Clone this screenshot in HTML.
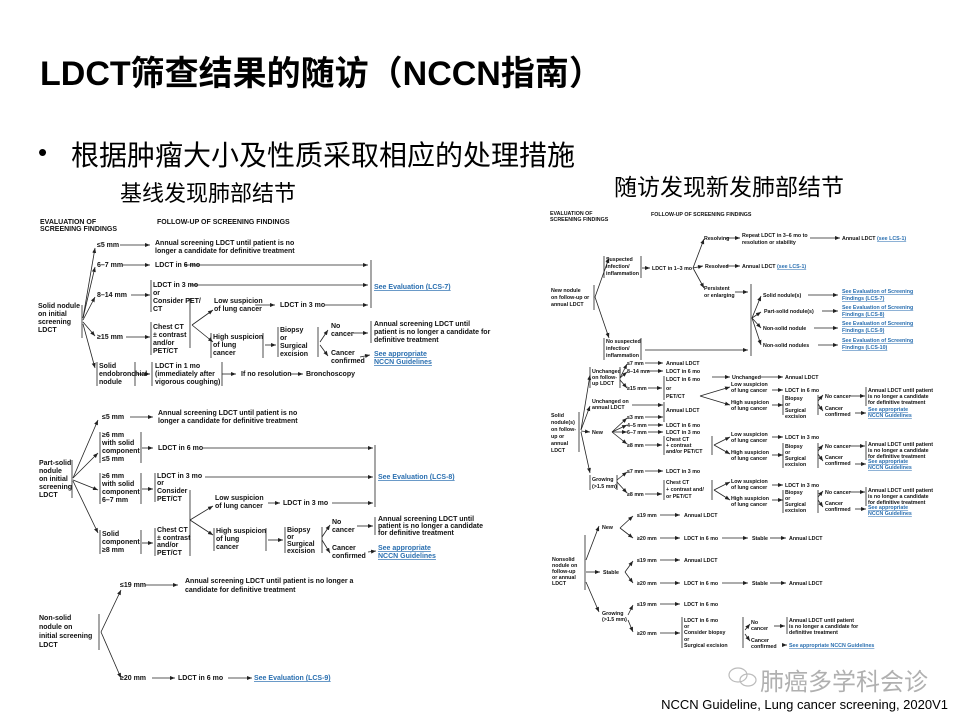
<!DOCTYPE html>
<html><head><meta charset="utf-8">
<style>
html,body{margin:0;padding:0;background:#fff;}
body{width:960px;height:720px;position:relative;overflow:hidden;font-family:"Liberation Sans","Noto Sans CJK SC",sans-serif;}
.h{position:absolute;white-space:nowrap;color:#000;}
svg{position:absolute;left:0;top:0;}
svg text{font-family:"Liberation Sans",sans-serif;fill:#111;}
.L text{font-size:7px;font-weight:bold;}
.R text{font-size:5.3px;font-weight:bold;}
text.b{fill:#2a6fb0;text-decoration:underline;}
path,line{stroke:#222;stroke-width:0.8;fill:none;}
</style></head><body>
<div class="h" style="left:40px;top:46px;font-size:34px;font-weight:bold;font-family:'Liberation Sans','Noto Sans CJK SC',sans-serif;">LDCT筛查结果的随访（NCCN指南）</div>
<div class="h" style="left:38px;top:137px;font-size:26px;font-family:'Liberation Sans','Noto Sans CJK SC',sans-serif;">•</div>
<div class="h" style="left:71px;top:134px;font-size:28px;font-family:'Noto Sans CJK SC',sans-serif;">根据肿瘤大小及性质采取相应的处理措施</div>
<div class="h" style="left:120px;top:176px;font-size:22px;font-family:'Noto Sans CJK SC',sans-serif;">基线发现肺部结节</div>
<div class="h" style="left:614px;top:168px;font-size:23px;font-family:'Noto Sans CJK SC',sans-serif;">随访发现新发肺部结节</div>
<div class="h" style="left:760px;top:662px;font-size:24px;color:#b0b0b0;font-family:'Noto Sans CJK SC',sans-serif;">肺癌多学科会诊</div>
<svg width="960" height="720" viewBox="0 0 960 720" style="pointer-events:none">
<g style="stroke:#bbb;stroke-width:1.2;fill:none">
<ellipse cx="738" cy="675" rx="9" ry="7"/><ellipse cx="748" cy="680" rx="8" ry="6"/>
</g></svg>
<div class="h" style="right:12px;top:697px;font-size:13px;">NCCN Guideline, Lung cancer screening, 2020V1</div>

<svg width="960" height="720" viewBox="0 0 960 720">
<defs><marker id="a" markerWidth="6" markerHeight="6" refX="5" refY="3" orient="auto" markerUnits="userSpaceOnUse"><path d="M0,1 L5,3 L0,5 z" style="fill:#222;stroke:none"/></marker></defs>

<g class="L">
<text x="40" y="224" font-size="6">EVALUATION OF</text><text x="40" y="231" font-size="6">SCREENING FINDINGS</text>
<text x="157" y="224" font-size="6">FOLLOW-UP OF SCREENING FINDINGS</text>
<text x="38" y="308">Solid nodule</text><text x="38" y="316">on initial</text><text x="38" y="324">screening</text><text x="38" y="332">LDCT</text>
<line x1="82" y1="305" x2="82" y2="338"/>
<g marker-end="url(#a)">
<line x1="83" y1="318" x2="95" y2="248"/><line x1="83" y1="318" x2="95" y2="267"/><line x1="83" y1="320" x2="95" y2="297"/><line x1="83" y1="322" x2="95" y2="336"/><line x1="83" y1="324" x2="95" y2="368"/>
<line x1="120" y1="245" x2="150" y2="245"/><line x1="122" y1="265" x2="150" y2="265"/><line x1="185" y1="265" x2="368" y2="265"/>
<line x1="131" y1="295" x2="150" y2="295"/><line x1="190" y1="285" x2="368" y2="285"/>
<line x1="126" y1="337" x2="150" y2="337"/>
<line x1="192" y1="325" x2="213" y2="310"/><line x1="192" y1="325" x2="213" y2="342"/>
<line x1="255" y1="305" x2="275" y2="305"/><line x1="325" y1="305" x2="368" y2="305"/>
<line x1="265" y1="345" x2="276" y2="345"/>
<line x1="320" y1="342" x2="328" y2="330"/><line x1="320" y1="345" x2="328" y2="356"/>
<line x1="353" y1="333" x2="368" y2="333"/><line x1="360" y1="357" x2="370" y2="355"/>
<line x1="137" y1="374" x2="150" y2="374"/><line x1="222" y1="374" x2="236" y2="374"/><line x1="290" y1="374" x2="303" y2="374"/>
</g>
<text x="97" y="247">≤5 mm</text>
<text x="155" y="245">Annual screening LDCT until patient is no</text><text x="155" y="253">longer a candidate for definitive treatment</text>
<text x="97" y="267">6–7 mm</text><text x="155" y="267">LDCT in 6 mo</text>
<text x="97" y="297">8–14 mm</text>
<line x1="151" y1="280" x2="151" y2="312"/>
<text x="153" y="287">LDCT in 3 mo</text><text x="153" y="295">or</text><text x="153" y="303">Consider PET/</text><text x="153" y="311">CT</text>
<text x="97" y="339">≥15 mm</text>
<line x1="151" y1="322" x2="151" y2="355"/><line x1="190" y1="298" x2="190" y2="348"/>
<text x="153" y="329">Chest CT</text><text x="153" y="337">± contrast</text><text x="153" y="345">and/or</text><text x="153" y="353">PET/CT</text>
<text x="214" y="303">Low suspicion</text><text x="214" y="311">of lung cancer</text>
<text x="280" y="307">LDCT in 3 mo</text>
<line x1="211" y1="333" x2="211" y2="358"/><line x1="263" y1="333" x2="263" y2="358"/>
<text x="213" y="339">High suspicion</text><text x="213" y="347">of lung</text><text x="213" y="355">cancer</text>
<line x1="278" y1="327" x2="278" y2="357"/><line x1="318" y1="327" x2="318" y2="357"/>
<text x="280" y="332">Biopsy</text><text x="280" y="340">or</text><text x="280" y="348">Surgical</text><text x="280" y="356">excision</text>
<text x="331" y="328">No</text><text x="331" y="336">cancer</text><text x="331" y="355">Cancer</text><text x="331" y="363">confirmed</text>
<line x1="371" y1="260" x2="371" y2="308"/><text x="374" y="289" class="b">See Evaluation (LCS-7)</text>
<line x1="371" y1="321" x2="371" y2="343"/>
<text x="374" y="326">Annual screening LDCT until</text><text x="374" y="334">patient is no longer a candidate for</text><text x="374" y="342">definitive treatment</text>
<text x="374" y="356" class="b">See appropriate</text><text x="374" y="364" class="b">NCCN Guidelines</text>
<line x1="97" y1="362" x2="97" y2="386"/><line x1="135" y1="362" x2="135" y2="386"/>
<text x="99" y="368">Solid</text><text x="99" y="376">endobronchial</text><text x="99" y="384">nodule</text>
<line x1="152" y1="362" x2="152" y2="386"/><line x1="222" y1="362" x2="222" y2="386"/>
<text x="155" y="368">LDCT in 1 mo</text><text x="155" y="376">(immediately after</text><text x="155" y="384">vigorous coughing)</text>
<text x="241" y="376">If no resolution</text><text x="306" y="376">Bronchoscopy</text>

<text x="39" y="465">Part-solid</text><text x="39" y="473">nodule</text><text x="39" y="481">on initial</text><text x="39" y="489">screening</text><text x="39" y="497">LDCT</text>
<line x1="72" y1="460" x2="72" y2="498"/>
<g marker-end="url(#a)">
<line x1="73" y1="478" x2="98" y2="420"/><line x1="73" y1="478" x2="98" y2="453"/><line x1="73" y1="480" x2="98" y2="490"/><line x1="73" y1="481" x2="98" y2="533"/>
<line x1="130" y1="417" x2="153" y2="417"/>
<line x1="142" y1="448" x2="153" y2="448"/><line x1="203" y1="448" x2="373" y2="448"/>
<line x1="142" y1="489" x2="153" y2="489"/><line x1="205" y1="477" x2="373" y2="477"/>
<line x1="142" y1="543" x2="153" y2="543"/>
<line x1="190" y1="520" x2="213" y2="506"/><line x1="190" y1="520" x2="213" y2="535"/>
<line x1="268" y1="503" x2="280" y2="503"/><line x1="332" y1="503" x2="373" y2="503"/>
<line x1="268" y1="540" x2="283" y2="540"/>
<line x1="322" y1="537" x2="330" y2="525"/><line x1="322" y1="540" x2="330" y2="553"/>
<line x1="357" y1="526" x2="373" y2="526"/><line x1="368" y1="552" x2="376" y2="551"/>
</g>
<text x="102" y="419">≤5 mm</text>
<text x="158" y="415">Annual screening LDCT until patient is no</text><text x="158" y="423">longer a candidate for definitive treatment</text>
<line x1="100" y1="432" x2="100" y2="463"/><line x1="141" y1="432" x2="141" y2="463"/>
<text x="102" y="437">≥6 mm</text><text x="102" y="445">with solid</text><text x="102" y="453">component</text><text x="102" y="461">≤5 mm</text>
<text x="158" y="450">LDCT in 6 mo</text>
<line x1="100" y1="473" x2="100" y2="504"/><line x1="141" y1="473" x2="141" y2="504"/>
<text x="102" y="478">≥6 mm</text><text x="102" y="486">with solid</text><text x="102" y="494">component</text><text x="102" y="502">6–7 mm</text>
<line x1="155" y1="473" x2="155" y2="502"/>
<text x="157" y="478">LDCT in 3 mo</text><text x="157" y="485">or</text><text x="157" y="493">Consider</text><text x="157" y="501">PET/CT</text>
<line x1="190" y1="490" x2="190" y2="556"/>
<line x1="100" y1="530" x2="100" y2="554"/><line x1="141" y1="530" x2="141" y2="554"/>
<text x="102" y="536">Solid</text><text x="102" y="544">component</text><text x="102" y="552">≥8 mm</text>
<line x1="155" y1="528" x2="155" y2="556"/>
<text x="157" y="532">Chest CT</text><text x="157" y="540">± contrast</text><text x="157" y="547">and/or</text><text x="157" y="555">PET/CT</text>
<text x="215" y="500">Low suspicion</text><text x="215" y="508">of lung cancer</text>
<text x="283" y="505">LDCT in 3 mo</text>
<line x1="214" y1="528" x2="214" y2="551"/><line x1="266" y1="528" x2="266" y2="551"/>
<text x="216" y="533">High suspicion</text><text x="216" y="541">of lung</text><text x="216" y="549">cancer</text>
<line x1="285" y1="527" x2="285" y2="553"/><line x1="322" y1="527" x2="322" y2="553"/>
<text x="287" y="532">Biopsy</text><text x="287" y="539">or</text><text x="287" y="546">Surgical</text><text x="287" y="553">excision</text>
<text x="332" y="524">No</text><text x="332" y="532">cancer</text><text x="332" y="550">Cancer</text><text x="332" y="558">confirmed</text>
<line x1="375" y1="445" x2="375" y2="507"/><text x="378" y="479" class="b">See Evaluation (LCS-8)</text>
<line x1="375" y1="517" x2="375" y2="535"/>
<text x="378" y="521">Annual screening LDCT until</text><text x="378" y="528">patient is no longer a candidate</text><text x="378" y="535">for definitive treatment</text>
<text x="378" y="550" class="b">See appropriate</text><text x="378" y="558" class="b">NCCN Guidelines</text>

<text x="39" y="620">Non-solid</text><text x="39" y="629">nodule on</text><text x="39" y="638">initial screening</text><text x="39" y="647">LDCT</text>
<line x1="99" y1="614" x2="99" y2="650"/>
<g marker-end="url(#a)">
<line x1="101" y1="632" x2="121" y2="590"/><line x1="101" y1="632" x2="121" y2="678"/>
<line x1="145" y1="585" x2="178" y2="585"/>
<line x1="152" y1="678" x2="175" y2="678"/><line x1="228" y1="678" x2="252" y2="678"/>
</g>
<text x="120" y="587">≤19 mm</text>
<text x="185" y="583">Annual screening LDCT until patient is no longer a</text><text x="185" y="592">candidate for definitive treatment</text>
<text x="120" y="680">≥20 mm</text><text x="178" y="680">LDCT in 6 mo</text><text x="254" y="680" class="b">See Evaluation (LCS-9)</text>
</g>

<g class="R">
<text x="550" y="215" font-size="5">EVALUATION OF</text><text x="550" y="221" font-size="5">SCREENING FINDINGS</text>
<text x="651" y="216" font-size="5">FOLLOW-UP OF SCREENING FINDINGS</text>
<text x="551" y="292">New nodule</text><text x="551" y="299">on follow-up or</text><text x="551" y="306">annual LDCT</text>
<line x1="594" y1="285" x2="594" y2="310"/>
<g marker-end="url(#a)" style="stroke-width:0.6">
<line x1="595" y1="297" x2="609" y2="258"/><line x1="595" y1="297" x2="609" y2="338"/>
<line x1="642" y1="268" x2="650" y2="268"/>
<line x1="693" y1="268" x2="704" y2="239"/><line x1="693" y1="268" x2="703" y2="266"/><line x1="693" y1="268" x2="704" y2="288"/>
<line x1="725" y1="238" x2="740" y2="238"/><line x1="810" y1="238" x2="840" y2="238"/>
<line x1="726" y1="266" x2="740" y2="266"/><line x1="735" y1="292" x2="748" y2="292"/>
<line x1="645" y1="350" x2="748" y2="350"/>
<line x1="752" y1="318" x2="761" y2="296"/><line x1="752" y1="318" x2="761" y2="312"/><line x1="752" y1="318" x2="761" y2="328"/><line x1="752" y1="318" x2="761" y2="345"/>
<line x1="808" y1="295" x2="838" y2="295"/><line x1="822" y1="311" x2="838" y2="311"/><line x1="814" y1="328" x2="838" y2="328"/><line x1="818" y1="345" x2="838" y2="345"/>
</g>
<line x1="604" y1="256" x2="604" y2="278"/><line x1="641" y1="256" x2="641" y2="278"/>
<text x="606" y="261">Suspected</text><text x="606" y="268">infection/</text><text x="606" y="275">inflammation</text>
<text x="652" y="270">LDCT in 1–3 mo</text>
<text x="704" y="240">Resolving</text><text x="742" y="237">Repeat LDCT in 3–6 mo to</text><text x="742" y="244">resolution or stability</text>
<text x="842" y="240">Annual LDCT <tspan style="fill:#2a6fb0;text-decoration:underline">(see LCS-1)</tspan></text>
<text x="705" y="268">Resolved</text><text x="742" y="268">Annual LDCT <tspan style="fill:#2a6fb0;text-decoration:underline">(see LCS-1)</tspan></text>
<text x="704" y="290">Persistent</text><text x="704" y="297">or enlarging</text>
<line x1="751" y1="284" x2="751" y2="356"/>
<text x="763" y="297">Solid nodule(s)</text><text x="764" y="313">Part-solid nodule(s)</text><text x="763" y="330">Non-solid nodule</text><text x="763" y="347">Non-solid nodules</text>
<text x="842" y="293" class="b">See Evaluation of Screening</text><text x="842" y="300" class="b">Findings (LCS-7)</text>
<text x="842" y="309" class="b">See Evaluation of Screening</text><text x="842" y="316" class="b">Findings (LCS-8)</text>
<text x="842" y="325" class="b">See Evaluation of Screening</text><text x="842" y="332" class="b">Findings (LCS-9)</text>
<text x="842" y="342" class="b">See Evaluation of Screening</text><text x="842" y="349" class="b">Findings (LCS-10)</text>
<line x1="604" y1="338" x2="604" y2="360"/><line x1="641" y1="338" x2="641" y2="360"/>
<text x="606" y="343">No suspected</text><text x="606" y="350">infection/</text><text x="606" y="357">inflammation</text>

<text x="551" y="417">Solid</text><text x="551" y="424">nodule(s)</text><text x="551" y="431">on follow-</text><text x="551" y="438">up or</text><text x="551" y="445">annual</text><text x="551" y="452">LDCT</text>
<line x1="579" y1="412" x2="579" y2="452"/>
<g marker-end="url(#a)" style="stroke-width:0.6">
<line x1="581" y1="430" x2="590" y2="375"/><line x1="581" y1="430" x2="590" y2="406"/><line x1="581" y1="431" x2="590" y2="432"/><line x1="581" y1="432" x2="590" y2="473"/>
<line x1="620" y1="378" x2="627" y2="364"/><line x1="620" y1="378" x2="627" y2="372"/><line x1="620" y1="380" x2="627" y2="388"/>
<line x1="645" y1="363" x2="663" y2="363"/><line x1="648" y1="371" x2="663" y2="371"/><line x1="648" y1="388" x2="662" y2="388"/>
<line x1="712" y1="377" x2="730" y2="377"/><line x1="760" y1="377" x2="783" y2="377"/>
<line x1="700" y1="396" x2="730" y2="387"/><line x1="700" y1="396" x2="730" y2="405"/>
<line x1="772" y1="390" x2="783" y2="390"/><line x1="772" y1="405" x2="783" y2="405"/>
<line x1="818" y1="401" x2="823" y2="395"/><line x1="818" y1="404" x2="823" y2="411"/>
<line x1="850" y1="396" x2="865" y2="396"/><line x1="855" y1="413" x2="866" y2="413"/>
<line x1="632" y1="405" x2="663" y2="405"/>
<line x1="612" y1="432" x2="627" y2="418"/><line x1="612" y1="432" x2="627" y2="425"/><line x1="612" y1="432" x2="627" y2="432"/><line x1="612" y1="432" x2="627" y2="444"/>
<line x1="645" y1="417" x2="663" y2="417"/><line x1="648" y1="425" x2="663" y2="425"/><line x1="648" y1="432" x2="663" y2="432"/><line x1="645" y1="445" x2="662" y2="445"/>
<line x1="714" y1="445" x2="730" y2="437"/><line x1="714" y1="445" x2="730" y2="454"/>
<line x1="772" y1="437" x2="783" y2="437"/><line x1="772" y1="455" x2="783" y2="455"/>
<line x1="818" y1="451" x2="823" y2="445"/><line x1="818" y1="454" x2="823" y2="461"/>
<line x1="850" y1="446" x2="865" y2="446"/><line x1="855" y1="464" x2="866" y2="464"/>
<line x1="617" y1="480" x2="627" y2="472"/><line x1="617" y1="482" x2="627" y2="493"/>
<line x1="645" y1="471" x2="663" y2="471"/><line x1="645" y1="494" x2="662" y2="494"/>
<line x1="714" y1="490" x2="730" y2="482"/><line x1="714" y1="490" x2="730" y2="500"/>
<line x1="772" y1="485" x2="783" y2="485"/><line x1="772" y1="500" x2="783" y2="500"/>
<line x1="818" y1="497" x2="823" y2="491"/><line x1="818" y1="500" x2="823" y2="507"/>
<line x1="850" y1="492" x2="865" y2="492"/><line x1="855" y1="509" x2="866" y2="509"/>
</g>
<line x1="590" y1="367" x2="590" y2="388"/><line x1="620" y1="367" x2="620" y2="388"/>
<text x="592" y="373">Unchanged</text><text x="592" y="379">on follow-</text><text x="592" y="385">up LDCT</text>
<text x="627" y="365">≤7 mm</text><text x="627" y="373">8–14 mm</text><text x="627" y="390">≥15 mm</text>
<text x="666" y="365">Annual LDCT</text><text x="666" y="373">LDCT in 6 mo</text>
<line x1="664" y1="376" x2="664" y2="400"/>
<text x="666" y="381">LDCT in 6 mo</text><text x="666" y="390">or</text><text x="666" y="398">PET/CT</text>
<text x="732" y="379">Unchanged</text><text x="785" y="379">Annual LDCT</text>
<text x="731" y="386">Low suspicion</text><text x="731" y="392">of lung cancer</text><text x="785" y="392">LDCT in 6 mo</text>
<text x="731" y="404">High suspicion</text><text x="731" y="410">of lung cancer</text>
<line x1="783" y1="395" x2="783" y2="415"/><line x1="818" y1="395" x2="818" y2="415"/>
<text x="785" y="400">Biopsy</text><text x="785" y="406">or</text><text x="785" y="412">Surgical</text><text x="785" y="418">excision</text>
<text x="825" y="398">No cancer</text><text x="825" y="410">Cancer</text><text x="825" y="416">confirmed</text>
<line x1="866" y1="387" x2="866" y2="406"/>
<text x="868" y="392">Annual LDCT until patient</text><text x="868" y="398">is no longer a candidate</text><text x="868" y="404">for definitive treatment</text>
<text x="868" y="411" class="b">See appropriate</text><text x="868" y="417" class="b">NCCN Guidelines</text>
<text x="592" y="403">Unchanged on</text><text x="592" y="409">annual LDCT</text>
<line x1="664" y1="402" x2="664" y2="422"/>
<text x="666" y="412">Annual LDCT</text>
<text x="592" y="434">New</text>
<text x="627" y="419">≤3 mm</text><text x="627" y="427">4–5 mm</text><text x="627" y="434">6–7 mm</text><text x="627" y="447">≥8 mm</text>
<text x="666" y="427">LDCT in 6 mo</text><text x="666" y="434">LDCT in 3 mo</text>
<line x1="664" y1="436" x2="664" y2="455"/><line x1="712" y1="436" x2="712" y2="455"/>
<text x="666" y="441">Chest CT</text><text x="666" y="447">+ contrast</text><text x="666" y="453">and/or PET/CT</text>
<text x="731" y="436">Low suspicion</text><text x="731" y="442">of lung cancer</text><text x="785" y="439">LDCT in 3 mo</text>
<text x="731" y="454">High suspicion</text><text x="731" y="460">of lung cancer</text>
<line x1="783" y1="443" x2="783" y2="468"/><line x1="818" y1="443" x2="818" y2="468"/>
<text x="785" y="448">Biopsy</text><text x="785" y="454">or</text><text x="785" y="460">Surgical</text><text x="785" y="466">excision</text>
<text x="825" y="448">No cancer</text><text x="825" y="459">Cancer</text><text x="825" y="465">confirmed</text>
<line x1="866" y1="441" x2="866" y2="460"/>
<text x="868" y="446">Annual LDCT until patient</text><text x="868" y="452">is no longer a candidate</text><text x="868" y="458">for definitive treatment</text>
<text x="868" y="463" class="b">See appropriate</text><text x="868" y="469" class="b">NCCN Guidelines</text>
<line x1="590" y1="475" x2="590" y2="490"/><line x1="617" y1="475" x2="617" y2="490"/>
<text x="592" y="481">Growing</text><text x="592" y="488">(&gt;1.5 mm)</text>
<text x="627" y="473">≤7 mm</text><text x="627" y="496">≥8 mm</text>
<text x="666" y="473">LDCT in 3 mo</text>
<line x1="664" y1="480" x2="664" y2="500"/><line x1="712" y1="480" x2="712" y2="500"/>
<text x="666" y="484">Chest CT</text><text x="666" y="491">+ contrast and/</text><text x="666" y="498">or PET/CT</text>
<text x="731" y="483">Low suspicion</text><text x="731" y="489">of lung cancer</text><text x="785" y="487">LDCT in 3 mo</text>
<text x="731" y="500">High suspicion</text><text x="731" y="506">of lung cancer</text>
<line x1="783" y1="490" x2="783" y2="513"/><line x1="818" y1="490" x2="818" y2="513"/>
<text x="785" y="494">Biopsy</text><text x="785" y="500">or</text><text x="785" y="506">Surgical</text><text x="785" y="512">excision</text>
<text x="825" y="494">No cancer</text><text x="825" y="505">Cancer</text><text x="825" y="511">confirmed</text>
<line x1="866" y1="487" x2="866" y2="506"/>
<text x="868" y="492">Annual LDCT until patient</text><text x="868" y="498">is no longer a candidate</text><text x="868" y="504">for definitive treatment</text>
<text x="868" y="509" class="b">See appropriate</text><text x="868" y="515" class="b">NCCN Guidelines</text>

<text x="552" y="561">Nonsolid</text><text x="552" y="567">nodule on</text><text x="552" y="573">follow-up</text><text x="552" y="579">or annual</text><text x="552" y="585">LDCT</text>
<line x1="585" y1="535" x2="585" y2="590"/>
<g marker-end="url(#a)" style="stroke-width:0.6">
<line x1="586" y1="560" x2="599" y2="526"/><line x1="586" y1="572" x2="600" y2="572"/><line x1="586" y1="582" x2="599" y2="612"/>
<line x1="620" y1="528" x2="633" y2="516"/><line x1="620" y1="528" x2="633" y2="538"/>
<line x1="625" y1="572" x2="633" y2="561"/><line x1="625" y1="572" x2="633" y2="583"/>
<line x1="628" y1="615" x2="633" y2="605"/><line x1="628" y1="620" x2="633" y2="632"/>
<line x1="660" y1="515" x2="680" y2="515"/><line x1="660" y1="538" x2="680" y2="538"/><line x1="722" y1="538" x2="748" y2="538"/><line x1="770" y1="538" x2="786" y2="538"/>
<line x1="660" y1="560" x2="680" y2="560"/><line x1="660" y1="583" x2="680" y2="583"/><line x1="722" y1="583" x2="748" y2="583"/><line x1="770" y1="583" x2="786" y2="583"/>
<line x1="660" y1="604" x2="680" y2="604"/><line x1="660" y1="633" x2="680" y2="633"/>
<line x1="745" y1="630" x2="750" y2="624"/><line x1="745" y1="634" x2="750" y2="641"/>
<line x1="774" y1="626" x2="785" y2="626"/><line x1="782" y1="645" x2="787" y2="645"/>
</g>
<text x="602" y="529">New</text><text x="603" y="574">Stable</text><text x="602" y="615">Growing</text><text x="602" y="621">(&gt;1.5 mm)</text>
<text x="637" y="517">≤19 mm</text><text x="637" y="540">≥20 mm</text><text x="637" y="562">≤19 mm</text><text x="637" y="585">≥20 mm</text><text x="637" y="606">≤19 mm</text><text x="637" y="635">≥20 mm</text>
<text x="684" y="517">Annual LDCT</text><text x="684" y="540">LDCT in 6 mo</text><text x="752" y="540">Stable</text><text x="789" y="540">Annual LDCT</text>
<text x="684" y="562">Annual LDCT</text><text x="684" y="585">LDCT in 6 mo</text><text x="752" y="585">Stable</text><text x="789" y="585">Annual LDCT</text>
<text x="684" y="606">LDCT in 6 mo</text>
<line x1="682" y1="617" x2="682" y2="648"/><line x1="743" y1="617" x2="743" y2="648"/>
<text x="684" y="622">LDCT in 6 mo</text><text x="684" y="628">or</text><text x="684" y="634">Consider biopsy</text><text x="684" y="641">or</text><text x="684" y="647">Surgical excision</text>
<text x="751" y="624">No</text><text x="751" y="630">cancer</text><text x="751" y="642">Cancer</text><text x="751" y="648">confirmed</text>
<line x1="787" y1="617" x2="787" y2="634"/>
<text x="789" y="622">Annual LDCT until patient</text><text x="789" y="628">is no longer a candidate for</text><text x="789" y="634">definitive treatment</text>
<text x="789" y="647" class="b">See appropriate NCCN Guidelines</text>
</g>
</svg>
</body></html>
